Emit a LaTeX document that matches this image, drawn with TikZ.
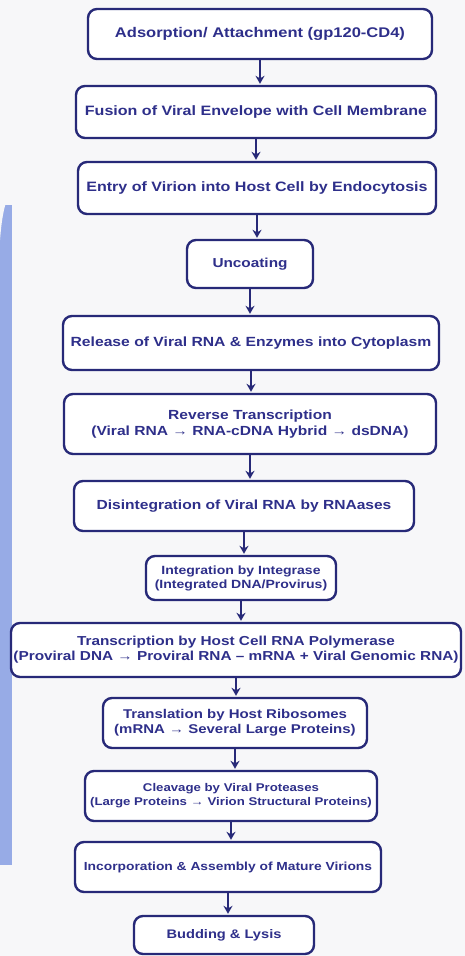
\documentclass[tikz,border=0pt]{standalone}
\usepackage{fontspec}
\setmainfont[FakeStretch=1.18]{Liberation Sans}
\usetikzlibrary{arrows.meta}
\definecolor{navy}{HTML}{272978}
\definecolor{inkblue}{HTML}{2E2F8A}
\definecolor{paper}{HTML}{F7F7F9}
\definecolor{sidebar}{HTML}{97ABE6}
\tikzset{
  stepbox/.style={draw=navy, line width=2.4pt, rounded corners=9pt, fill=white,
    text=inkblue, font=\bfseries\fontsize{13.6}{15}\selectfont, align=center,
    inner sep=0pt},
  flowarrow/.style={draw=navy, line width=2.2pt,
    -{Stealth[length=8pt,width=9pt]}, shorten >=1pt}
}
\begin{document}
\begin{tikzpicture}[x=1pt,y=-1pt]
\fill[paper] (0,0) rectangle (465,956);
\useasboundingbox (0,0) rectangle (465,956);
% left sidebar edge of an adjacent panel
\fill[sidebar] (-40,205) rectangle (12,865);
\fill[paper] (12,190) .. controls (5,200) and (2,215) .. (0,240) -- (0,190) -- cycle;

\node[stepbox, minimum width=344pt, minimum height=50pt,
  font=\bfseries\fontsize{14}{15}\selectfont] (n1) at (260,34)
  {Adsorption/ Attachment (gp120-CD4)};
\node[stepbox, minimum width=360pt, minimum height=52pt] (n2) at (256,112)
  {Fusion of Viral Envelope with Cell Membrane};
\node[stepbox, minimum width=358pt, minimum height=52pt] (n3) at (257,188)
  {Entry of Virion into Host Cell by Endocytosis};
\node[stepbox, minimum width=126pt, minimum height=48pt,
  font=\bfseries\fontsize{13}{15}\selectfont] (n4) at (250,264)
  {Uncoating};
\node[stepbox, minimum width=376pt, minimum height=54pt,
  font=\bfseries\fontsize{13.3}{15}\selectfont] (n5) at (251,343)
  {Release of Viral RNA \& Enzymes into Cytoplasm};
\node[stepbox, minimum width=372pt, minimum height=60pt,
  font=\bfseries\fontsize{13.2}{15.5}\selectfont] (n6) at (250,424)
  {Reverse Transcription\\(Viral RNA → RNA-cDNA Hybrid → dsDNA)};
\node[stepbox, minimum width=340pt, minimum height=50pt,
  font=\bfseries\fontsize{13.2}{15}\selectfont] (n7) at (244,506)
  {Disintegration of Viral RNA by RNAases};
\node[stepbox, minimum width=190pt, minimum height=44pt,
  font=\bfseries\fontsize{11.9}{14}\selectfont] (n8) at (241,578)
  {Integration by Integrase\\(Integrated DNA/Provirus)};
\node[stepbox, minimum width=450pt, minimum height=54pt,
  font=\bfseries\fontsize{13}{15}\selectfont] (n9) at (236,650)
  {Transcription by Host Cell RNA Polymerase\\(Proviral DNA → Proviral RNA – mRNA + Viral Genomic RNA)};
\node[stepbox, minimum width=264pt, minimum height=50pt,
  font=\bfseries\fontsize{12.7}{15}\selectfont] (n10) at (235,723)
  {Translation by Host Ribosomes\\(mRNA → Several Large Proteins)};
\node[stepbox, minimum width=292pt, minimum height=50pt,
  font=\bfseries\fontsize{11.2}{14}\selectfont] (n11) at (231,796)
  {Cleavage by Viral Proteases\\(Large Proteins → Virion Structural Proteins)};
\node[stepbox, minimum width=306pt, minimum height=50pt,
  font=\bfseries\fontsize{11.7}{14}\selectfont] (n12) at (228,867)
  {Incorporation \& Assembly of Mature Virions};
\node[stepbox, minimum width=180pt, minimum height=38pt,
  font=\bfseries\fontsize{12.4}{14}\selectfont] (n13) at (224,935)
  {Budding \& Lysis};

\foreach \a/\b in {n1/n2,n2/n3,n3/n4,n4/n5,n5/n6,n6/n7,n7/n8,n8/n9,n9/n10,n10/n11,n11/n12,n12/n13}
  \draw[flowarrow] (\a.south) -- (\a.south |- \b.north);
\end{tikzpicture}
\end{document}
